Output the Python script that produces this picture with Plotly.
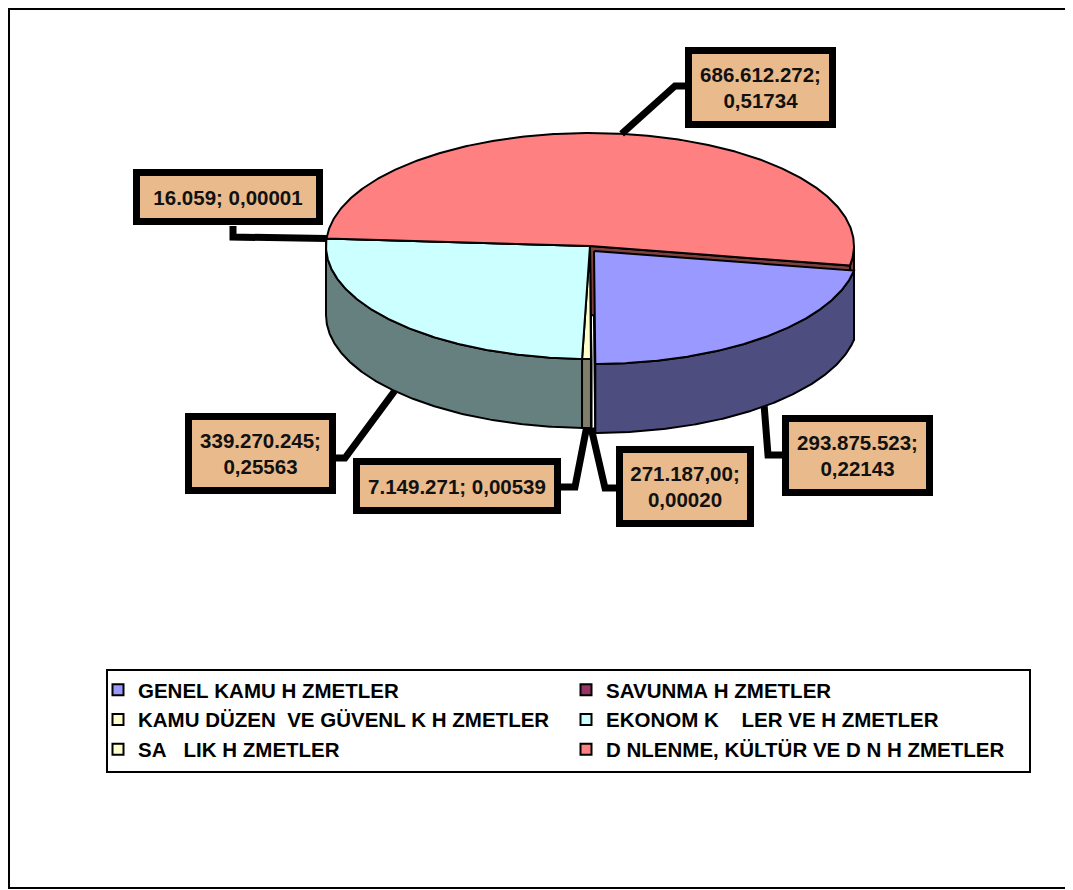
import numpy as np
import plotly.graph_objects as go

# ---------------- data ----------------
categories = [
    "GENEL KAMU H ZMETLER",
    "SAVUNMA H ZMETLER",
    "KAMU DÜZEN  VE GÜVENL K H ZMETLER",
    "EKONOM K    LER VE H ZMETLER",
    "SA   LIK H ZMETLER",
    "D NLENME, KÜLTÜR VE D N H ZMETLER",
]
values = [293875523, 271187, 7149271, 339270245, 16059, 686612272]
value_labels = ["293.875.523", "271.187,00", "7.149.271", "339.270.245", "16.059", "686.612.272"]
top_colors = ["#9999FF", "#993366", "#FFFFCC", "#CCFFFF", "#FFFFCC", "#FF8080"]
side_colors = ["#4D4D80", "#4D1A33", "#80806A", "#668080", "#80806A", "#804040"]

# ---------------- geometry (layout/style) ----------------
OFF = 8                      # page margin of the html body
W, H = 1073 - OFF, 890 - OFF  # figure size
cx, cy, rx, ry, depth = 590, 246, 264, 113, 69
start_angle = 100.0
explode = [(4, 5), (0, 0), (0, 0), (0, 0), (0, 0), (0, 0)]
# label box centre, elbow and attach points, box size (text area), line break flag
label_layout = [
    dict(box=(857, 455), elbow=(768, 455), end=(782, 455), w=133, h=63, br=True),
    dict(box=(685, 486), elbow=(605, 488), end=(617, 488), w=120, h=63, br=True),
    dict(box=(457, 486), elbow=(575, 487), end=(560, 487), w=190, h=38, br=False),
    dict(box=(260, 453), elbow=(345, 458), end=(335, 458), w=133, h=63, br=True),
    dict(box=(228, 197), elbow=(233, 237), end=(233, 226), w=172, h=38, br=False),
    dict(box=(760, 87), elbow=(675, 86), end=(685, 86), w=133, h=63, br=True),
]

total = float(sum(values))
shares = [v / total for v in values]
spans = [s * 360.0 for s in shares]
starts = [start_angle + sum(spans[:i]) for i in range(len(spans))]


def pt(theta, dx, dy, down=0.0):
    t = np.radians(theta)
    return cx + dx + rx * np.sin(t), cy + dy - ry * np.cos(t) + down


def arc(a0, a1, dx, dy, down=0.0):
    n = max(2, int(abs(a1 - a0) * 2) + 2)
    th = np.linspace(a0, a1, n)
    xs, ys = pt(th, dx, dy, down)
    return list(xs), list(ys)


fig = go.Figure()
edge = dict(color="black", width=2)

# radial walls
for i in range(len(values)):
    dx, dy = explode[i]
    for a in (starts[i], starts[i] + spans[i]):
        xr, yr = pt(a, dx, dy)
        xs = [cx + dx, xr, xr, cx + dx, cx + dx]
        ys = [cy + dy, yr, yr + depth, cy + dy + depth, cy + dy]
        fig.add_trace(go.Scatter(x=xs, y=ys, mode="lines", fill="toself",
                                 fillcolor=side_colors[i], line=edge,
                                 showlegend=False, hoverinfo="skip"))

# outer (front) walls, back-most first
walls = []
for i in range(len(values)):
    dx, dy = explode[i]
    a0, a1 = starts[i], starts[i] + spans[i]
    for lo, hi in ((90, 270), (450, 630)):
        b0, b1 = max(a0, lo), min(a1, hi)
        if b1 > b0:
            walls.append((pt((b0 + b1) / 2, dx, dy)[1], i, b0, b1))
for _, i, b0, b1 in sorted(walls):
    dx, dy = explode[i]
    xt, yt = arc(b0, b1, dx, dy)
    xb, yb = arc(b1, b0, dx, dy, depth)
    fig.add_trace(go.Scatter(x=xt + xb + [xt[0]], y=yt + yb + [yt[0]],
                             mode="lines", fill="toself",
                             fillcolor=side_colors[i], line=edge,
                             showlegend=False, hoverinfo="skip"))

# top faces
for i in range(len(values)):
    dx, dy = explode[i]
    a0, a1 = starts[i], starts[i] + spans[i]
    xa, ya = arc(a0, a1, dx, dy)
    fig.add_trace(go.Scatter(x=[cx + dx] + xa + [cx + dx], y=[cy + dy] + ya + [cy + dy],
                             mode="lines", fill="toself", fillcolor=top_colors[i],
                             line=edge, showlegend=False, hoverinfo="skip"))

# leader lines + labels
annotations = []
for i in range(len(values)):
    dx, dy = explode[i]
    mid = starts[i] + spans[i] / 2
    front = np.cos(np.radians(mid)) < 0
    ax_, ay_ = pt(mid, dx, dy, depth if front else 0)
    lay = label_layout[i]
    fig.add_trace(go.Scatter(x=[ax_, lay["elbow"][0], lay["end"][0]],
                             y=[ay_, lay["elbow"][1], lay["end"][1]],
                             mode="lines", line=dict(color="black", width=7),
                             showlegend=False, hoverinfo="skip"))
    sep = ";<br>" if lay["br"] else "; "
    txt = "<b>" + value_labels[i] + sep + ("%.5f" % shares[i]).replace(".", ",") + "</b>"
    annotations.append(dict(x=lay["box"][0], y=lay["box"][1], xref="x", yref="y",
                            text=txt, showarrow=False, width=lay["w"], height=lay["h"],
                            font=dict(family="Liberation Sans, Arial", size=20.5, color="#111111"),
                            bgcolor="#E9BA8B", bordercolor="black", borderwidth=7,
                            borderpad=2, align="center", valign="middle"))

# legend entries
for i in range(len(values)):
    fig.add_trace(go.Scatter(x=[None], y=[None], mode="markers",
                             name=categories[i].replace(" ", "\u00a0"),
                             marker=dict(symbol="square", size=11, color=top_colors[i],
                                         line=dict(color="black", width=2))))

fig.update_layout(
    width=W, height=H, margin=dict(l=0, r=0, t=0, b=0),
    paper_bgcolor="white", plot_bgcolor="white",
    xaxis=dict(range=[OFF, W + OFF], visible=False, fixedrange=True),
    yaxis=dict(range=[H + OFF, OFF], visible=False, fixedrange=True),
    annotations=annotations,
    shapes=[
        dict(type="rect", xref="x", yref="y", x0=9, x1=1090, y0=9, y1=888,
             line=dict(color="black", width=2)),
        dict(type="rect", xref="x", yref="y", x0=107, x1=1030, y0=670, y1=772,
             line=dict(color="black", width=2)),
    ],
    legend=dict(orientation="h", x=(98 - OFF) / W, y=1 - (670 - OFF) / H,
                xanchor="left", yanchor="top",
                borderwidth=0, bgcolor="rgba(0,0,0,0)",
                entrywidth=423, entrywidthmode="pixels",
                font=dict(family="Liberation Sans, Arial", size=20.5, color="black", weight="bold")),
    showlegend=True,
)

fig.write_html("out.html")
